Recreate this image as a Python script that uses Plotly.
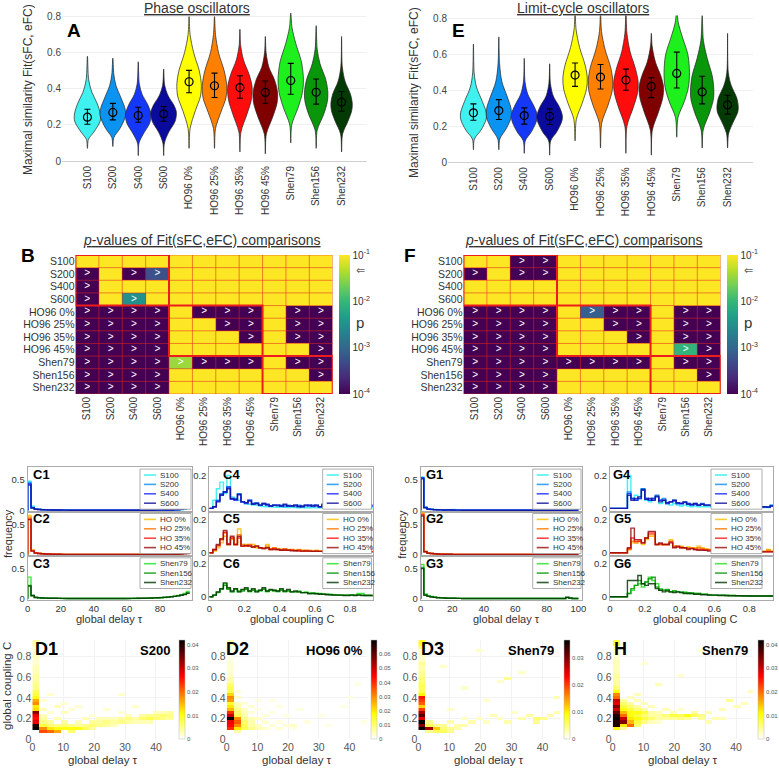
import plotly.graph_objects as go

W, H = 779, 772
def PX(x): return x / W
def PY(y): return 1 - y / H

FONT = "Liberation Sans, Arial, sans-serif"
TXT = "#333333"

# ---------------- data ----------------
cats = ["S100", "S200", "S400", "S600", "HO96 0%", "HO96 25%", "HO96 35%", "HO96 45%",
        "Shen79", "Shen156", "Shen232"]
vcolors = ["#3ff2f0", "#0b93f2", "#1438f5", "#0a0a9c", "#ffff00", "#ff8000", "#ff0d0d",
           "#800000", "#1ef01e", "#0a960a", "#043a04"]

# Panel A (phase oscillators): mean and error-bar ends
A_mean = [0.243, 0.269, 0.252, 0.261, 0.439, 0.417, 0.407, 0.380, 0.446, 0.381, 0.326]
A_top = [0.287, 0.319, 0.298, 0.302, 0.502, 0.487, 0.472, 0.443, 0.541, 0.454, 0.385]
A_bot = [0.204, 0.228, 0.215, 0.220, 0.378, 0.352, 0.348, 0.320, 0.370, 0.315, 0.276]
A_lo = [0.07, 0.08, 0.03, 0.03, 0.07, 0.07, 0.05, 0.04, 0.10, 0.07, 0.05]
A_hi = [0.58, 0.57, 0.55, 0.51, 0.80, 0.80, 0.73, 0.69, 0.82, 0.75, 0.69]
A_ky = [[.12, .16, .22, .26, .32, .38, .45], [.13, .18, .25, .29, .35, .42, .48],
        [.10, .15, .21, .26, .31, .37, .43], [.10, .16, .22, .27, .31, .36, .42],
        [.18, .28, .36, .43, .50, .60, .70], [.18, .27, .35, .42, .50, .60, .70],
        [.16, .26, .34, .41, .48, .56, .64], [.15, .24, .32, .38, .45, .52, .60],
        [.20, .30, .38, .45, .55, .65, .74], [.17, .26, .33, .38, .45, .54, .62],
        [.15, .22, .28, .32, .37, .44, .52]]
A_kw = [[.04, .25, .50, .51, .38, .18, .05], [.04, .28, .50, .48, .32, .12, .04],
        [.03, .20, .45, .50, .38, .15, .04], [.03, .20, .45, .50, .40, .18, .04],
        [.04, .25, .45, .48, .40, .18, .04], [.04, .25, .45, .48, .38, .16, .04],
        [.04, .28, .45, .48, .36, .14, .03], [.04, .28, .46, .48, .36, .14, .03],
        [.04, .30, .46, .50, .42, .20, .05], [.04, .30, .44, .46, .38, .15, .04],
        [.04, .25, .40, .42, .35, .14, .03]]

# Panel E (limit-cycle oscillators)
E_mean = [0.276, 0.289, 0.261, 0.257, 0.487, 0.476, 0.459, 0.424, 0.496, 0.393, 0.320]
E_top = [0.326, 0.350, 0.304, 0.298, 0.554, 0.546, 0.520, 0.472, 0.615, 0.480, 0.374]
E_bot = [0.235, 0.239, 0.213, 0.211, 0.424, 0.409, 0.402, 0.361, 0.415, 0.326, 0.269]
E_lo = [0.07, 0.07, 0.05, 0.04, 0.12, 0.08, 0.05, 0.04, 0.14, 0.08, 0.08]
E_hi = [0.66, 0.70, 0.58, 0.55, 0.84, 0.84, 0.84, 0.72, 0.86, 0.82, 0.72]
E_ky = [[.13, .18, .24, .28, .34, .42, .50], [.13, .19, .25, .30, .37, .45, .55],
        [.12, .17, .23, .27, .32, .38, .45], [.12, .17, .23, .26, .31, .37, .44],
        [.24, .33, .41, .47, .54, .64, .74], [.22, .32, .40, .46, .53, .63, .73],
        [.20, .31, .39, .45, .52, .62, .72], [.18, .28, .36, .42, .48, .56, .65],
        [.25, .34, .42, .50, .60, .70, .78], [.18, .28, .35, .40, .48, .58, .68],
        [.16, .23, .28, .31, .36, .43, .50]]
E_kw = [[.04, .30, .50, .50, .35, .12, .03], [.04, .30, .48, .48, .32, .12, .03],
        [.04, .28, .48, .50, .36, .14, .03], [.04, .28, .48, .50, .38, .14, .03],
        [.05, .28, .45, .48, .40, .18, .04], [.05, .30, .46, .48, .40, .18, .04],
        [.04, .30, .46, .48, .38, .16, .04], [.04, .28, .45, .48, .38, .16, .03],
        [.05, .30, .46, .50, .44, .22, .06], [.04, .30, .44, .46, .40, .20, .05],
        [.04, .24, .40, .42, .36, .14, .03]]

# Panels B / F: log10(p) of pairwise comparisons (row vs column)
B_log10p = [
    [-0.5, -0.5, -0.5, -0.5, -0.5, -0.5, -0.5, -0.5, -0.5, -0.5, -0.5],
    [-4.5, -0.5, -4.5, -3.25, -0.5, -0.5, -0.5, -0.5, -0.5, -0.5, -0.5],
    [-4.5, -0.5, -0.5, -0.5, -0.5, -0.5, -0.5, -0.5, -0.5, -0.5, -0.5],
    [-4.5, -0.5, -2.5, -0.5, -0.5, -0.5, -0.5, -0.5, -0.5, -0.5, -0.5],
    [-4.5, -4.5, -4.5, -4.5, -0.5, -4.5, -4.5, -4.5, -0.5, -4.5, -4.5],
    [-4.5, -4.5, -4.5, -4.5, -0.5, -0.5, -4.5, -4.5, -0.5, -4.5, -4.5],
    [-4.5, -4.5, -4.5, -4.5, -0.5, -0.5, -0.5, -4.5, -0.5, -4.5, -4.5],
    [-4.5, -4.5, -4.5, -4.5, -0.5, -0.5, -0.5, -0.5, -0.5, -0.5, -4.5],
    [-4.5, -4.5, -4.5, -4.5, -1.45, -4.5, -4.5, -4.5, -0.5, -4.5, -4.5],
    [-4.5, -4.5, -4.5, -4.5, -0.5, -0.5, -0.5, -0.5, -0.5, -0.5, -4.5],
    [-4.5, -4.5, -4.5, -4.5, -0.5, -0.5, -0.5, -0.5, -0.5, -0.5, -0.5]]
F_log10p = [
    [-0.5, -0.5, -4.5, -4.5, -0.5, -0.5, -0.5, -0.5, -0.5, -0.5, -0.5],
    [-4.5, -0.5, -4.5, -4.5, -0.5, -0.5, -0.5, -0.5, -0.5, -0.5, -0.5],
    [-0.5, -0.5, -0.5, -0.5, -0.5, -0.5, -0.5, -0.5, -0.5, -0.5, -0.5],
    [-0.5, -0.5, -0.5, -0.5, -0.5, -0.5, -0.5, -0.5, -0.5, -0.5, -0.5],
    [-4.5, -4.5, -4.5, -4.5, -0.5, -3.1, -4.5, -4.5, -0.5, -4.5, -4.5],
    [-4.5, -4.5, -4.5, -4.5, -0.5, -0.5, -4.5, -4.5, -0.5, -4.5, -4.5],
    [-4.5, -4.5, -4.5, -4.5, -0.5, -0.5, -0.5, -4.5, -0.5, -4.5, -4.5],
    [-4.5, -4.5, -4.5, -4.5, -0.5, -0.5, -0.5, -0.5, -0.5, -2.05, -4.5],
    [-4.5, -4.5, -4.5, -4.5, -4.5, -4.5, -4.5, -4.5, -0.5, -4.5, -4.5],
    [-4.5, -4.5, -4.5, -4.5, -0.5, -0.5, -0.5, -0.5, -0.5, -0.5, -4.5],
    [-4.5, -4.5, -4.5, -4.5, -0.5, -0.5, -0.5, -0.5, -0.5, -0.5, -0.5]]
alpha_log10 = -1.301  # p = 0.05

# Histograms of delay (bin width 2) and coupling (bin width 0.02)
delay_bin = 2.0
coup_bin = 0.02
S_names = ["S100", "S200", "S400", "S600"]
HO_names = ["HO 0%", "HO 25%", "HO 35%", "HO 45%"]
Shen_names = ["Shen79", "Shen156", "Shen232"]
S_hcol = ["#22eef0", "#0a90f0", "#1a2cff", "#12129c"]
HO_hcol = ["#f8c000", "#ff7a00", "#ff1a1a", "#9a0f0f"]
Shen_hcol = ["#22e022", "#0a980a", "#063806"]

C1_delay = [
    [.48, .07, .03, .02, .016, .013, .011, .01, .009, .008, .008, .007, .007, .006, .006, .006, .005, .005, .005, .005, .005, .004, .004, .004, .004, .004, .004, .004, .004, .004, .004, .004, .004, .004, .004, .005, .005, .005, .005, .005, .006, .006, .007, .008, .009, .011, .014, .02, .03],
    [.46, .05, .025, .018, .014, .012, .01, .009, .008, .007, .007, .006, .006, .006, .005, .005, .005, .005, .005, .004, .004, .004, .004, .004, .004, .004, .004, .004, .004, .004, .004, .004, .004, .004, .004, .005, .005, .005, .005, .006, .006, .006, .007, .008, .01, .012, .016, .025, .045],
    [.44, .045, .022, .016, .013, .011, .01, .009, .008, .007, .007, .006, .006, .005, .005, .005, .005, .004, .004, .004, .004, .004, .004, .004, .004, .004, .004, .004, .004, .004, .004, .004, .004, .004, .005, .005, .005, .005, .005, .006, .006, .007, .008, .009, .01, .013, .018, .03, .06],
    [.42, .04, .02, .015, .012, .01, .009, .008, .007, .007, .006, .006, .005, .005, .005, .005, .004, .004, .004, .004, .004, .004, .004, .004, .004, .004, .004, .004, .004, .004, .004, .004, .004, .005, .005, .005, .005, .005, .006, .006, .007, .007, .008, .009, .011, .014, .02, .035, .07]]
C2_delay = [
    [.65, .08, .035, .025, .02, .016, .013, .011, .01, .009, .008, .007, .007, .006, .006, .005, .005, .005, .005, .004, .004, .004, .004, .004, .004, .004, .004, .004, .004, .004, .004, .004, .004, .004, .004, .004, .005, .005, .005, .005, .005, .006, .006, .007, .008, .01, .015, .025, .03],
    [.62, .07, .03, .022, .018, .015, .012, .01, .009, .008, .008, .007, .006, .006, .006, .005, .005, .005, .004, .004, .004, .004, .004, .004, .004, .004, .004, .004, .004, .004, .004, .004, .004, .004, .004, .005, .005, .005, .005, .005, .006, .006, .007, .008, .009, .012, .016, .02, .028],
    [.59, .065, .03, .02, .016, .014, .012, .01, .009, .008, .007, .007, .006, .006, .005, .005, .005, .005, .004, .004, .004, .004, .004, .004, .004, .004, .004, .004, .004, .004, .004, .004, .004, .004, .005, .005, .005, .005, .005, .006, .006, .006, .007, .008, .01, .012, .018, .03, .035],
    [.58, .06, .028, .02, .016, .013, .011, .01, .009, .008, .007, .006, .006, .006, .005, .005, .005, .004, .004, .004, .004, .004, .004, .004, .004, .004, .004, .004, .004, .004, .004, .004, .004, .004, .004, .004, .005, .005, .005, .005, .005, .006, .006, .007, .008, .01, .012, .016, .02]]
C3_delay = [
    [.36, .05, .02, .015, .012, .01, .009, .008, .007, .007, .006, .006, .005, .005, .005, .005, .005, .004, .004, .004, .004, .004, .004, .004, .004, .004, .004, .004, .005, .005, .005, .005, .006, .006, .007, .008, .009, .01, .012, .015, .018, .022, .028, .035, .045, .055, .07, .09, .12],
    [.22, .06, .025, .018, .014, .012, .01, .009, .008, .008, .007, .007, .006, .006, .006, .005, .005, .005, .005, .005, .005, .005, .005, .005, .005, .005, .005, .006, .006, .006, .007, .007, .008, .008, .009, .01, .012, .014, .016, .018, .022, .026, .03, .036, .04, .05, .06, .075, .1],
    [.21, .05, .022, .016, .013, .011, .01, .009, .008, .007, .007, .006, .006, .006, .005, .005, .005, .005, .005, .005, .005, .005, .005, .005, .005, .005, .005, .005, .006, .006, .006, .007, .007, .008, .009, .01, .011, .013, .015, .018, .02, .024, .028, .033, .04, .048, .058, .07, .09]]
G1_delay = [
    [.55, .06, .03, .02, .015, .012, .01, .009, .008, .008, .015, .007, .006, .006, .006, .005, .005, .005, .005, .005, .005, .004, .004, .004, .004, .004, .004, .004, .004, .004, .004, .004, .004, .004, .004, .004, .004, .004, .004, .004, .004, .004, .005, .005, .005, .005, .005, .005, .005, .006],
    [.53, .05, .025, .018, .014, .012, .01, .009, .008, .007, .007, .006, .006, .006, .005, .005, .005, .005, .005, .004, .004, .004, .004, .004, .004, .004, .004, .004, .004, .004, .004, .004, .004, .004, .004, .004, .004, .004, .004, .004, .004, .004, .004, .004, .005, .005, .005, .005, .005, .006],
    [.54, .05, .025, .018, .014, .011, .01, .009, .008, .007, .007, .006, .006, .005, .005, .005, .005, .005, .004, .004, .004, .004, .004, .004, .004, .004, .004, .004, .004, .004, .004, .004, .004, .004, .004, .004, .004, .004, .004, .004, .004, .004, .004, .004, .004, .005, .005, .005, .005, .005],
    [.52, .045, .022, .016, .013, .011, .01, .009, .008, .007, .006, .006, .006, .005, .005, .005, .005, .004, .004, .004, .004, .004, .004, .004, .004, .004, .004, .004, .004, .004, .004, .004, .004, .004, .004, .004, .004, .004, .004, .004, .004, .004, .004, .004, .004, .005, .005, .005, .006, .008]]
G2_delay = [
    [.70, .06, .03, .022, .018, .015, .012, .01, .009, .008, .007, .007, .006, .006, .005, .005, .005, .005, .004, .004, .004, .004, .004, .004, .004, .004, .004, .004, .004, .004, .004, .004, .004, .004, .004, .004, .004, .004, .004, .004, .004, .004, .004, .004, .004, .004, .004, .004, .004, .004],
    [.68, .055, .03, .022, .018, .014, .012, .01, .009, .008, .007, .007, .006, .006, .005, .005, .005, .005, .004, .004, .004, .004, .004, .004, .004, .004, .004, .004, .004, .004, .004, .004, .004, .004, .004, .004, .004, .004, .004, .004, .004, .004, .004, .004, .004, .004, .004, .004, .004, .004],
    [.66, .05, .028, .02, .016, .013, .011, .01, .009, .008, .007, .006, .006, .005, .005, .005, .005, .004, .004, .004, .004, .004, .004, .004, .004, .004, .004, .004, .004, .004, .004, .004, .004, .004, .004, .004, .004, .004, .004, .004, .004, .004, .004, .004, .004, .004, .004, .004, .004, .004],
    [.64, .05, .025, .02, .016, .013, .011, .01, .009, .008, .007, .006, .006, .005, .005, .005, .005, .004, .004, .004, .004, .004, .004, .004, .004, .004, .004, .004, .004, .004, .004, .004, .004, .004, .004, .004, .004, .004, .004, .004, .004, .004, .004, .004, .004, .004, .004, .004, .004, .004]]
G3_delay = [
    [.57, .08, .05, .04, .03, .022, .018, .015, .012, .01, .009, .008, .007, .006, .006, .005, .005, .005, .005, .005, .004, .004, .004, .004, .004, .004, .004, .004, .004, .004, .004, .004, .004, .004, .004, .004, .004, .004, .004, .004, .004, .004, .004, .004, .005, .006, .02, .008, .005, .004],
    [.52, .07, .045, .035, .026, .02, .016, .013, .011, .01, .009, .008, .007, .006, .006, .005, .005, .005, .005, .004, .004, .004, .004, .004, .004, .004, .004, .004, .004, .004, .004, .004, .004, .004, .004, .004, .004, .004, .004, .004, .004, .004, .004, .004, .005, .006, .022, .01, .005, .004],
    [.50, .06, .04, .03, .024, .018, .015, .012, .01, .009, .008, .007, .007, .006, .005, .005, .005, .005, .004, .004, .004, .004, .004, .004, .004, .004, .004, .004, .004, .004, .004, .004, .004, .004, .004, .004, .004, .004, .004, .004, .004, .004, .004, .004, .005, .006, .025, .012, .005, .004]]

C4_coup = [
    [0, .05, .12, .16, .09, .2, .07, .06, .05, .04, .03, .025, .02, .02, .015, .012, .01, .01, .008, .007, .008, .006, .005, .006, .005, .004, .005, .004, .004, .005, .003, .004, .003, .004, .003, .003, .004, .003, .003, .003, .002, .003, .002, .003, .002, .002, .002],
    [0, .01, .05, .09, .1, .13, .06, .06, .09, .04, .035, .05, .03, .035, .02, .025, .02, .015, .02, .015, .02, .012, .02, .015, .012, .02, .01, .015, .02, .012, .02, .01, .015, .02, .012, .015, .01, .02, .012, .015, .01, .012, .01, .015, .01, .01, .012],
    [0, .01, .045, .085, .1, .13, .055, .05, .085, .04, .03, .05, .03, .03, .02, .03, .02, .015, .02, .02, .015, .02, .015, .015, .02, .015, .01, .02, .015, .02, .015, .01, .02, .015, .01, .02, .015, .01, .02, .012, .015, .01, .02, .01, .015, .01, .015],
    [0, .01, .04, .08, .1, .12, .06, .055, .085, .04, .035, .045, .025, .03, .02, .03, .025, .015, .02, .02, .015, .025, .015, .015, .02, .01, .015, .02, .02, .015, .02, .01, .025, .015, .01, .02, .015, .01, .02, .015, .02, .01, .02, .015, .01, .015, .02]]
C5_coup = [
    [0, .01, .03, .06, .1, .05, .08, .05, .145, .04, .05, .04, .05, .03, .03, .03, .05, .02, .03, .025, .02, .02, .02, .015, .015, .02, .015, .01, .015, .01, .015, .01, .01, .015, .01, .01, .01, .01, .008, .01, .008, .01, .008, .008, .008, .008, .008],
    [0, .015, .04, .08, .12, .05, .09, .05, .11, .05, .04, .05, .035, .04, .03, .03, .04, .025, .03, .02, .02, .025, .015, .02, .015, .015, .01, .015, .01, .01, .012, .01, .01, .01, .008, .01, .008, .01, .008, .008, .008, .006, .008, .006, .008, .015, .008],
    [0, .02, .045, .08, .125, .055, .09, .05, .09, .04, .04, .045, .035, .04, .03, .025, .03, .02, .025, .02, .015, .02, .015, .015, .012, .015, .01, .012, .01, .01, .01, .008, .01, .008, .008, .008, .006, .008, .006, .006, .006, .006, .006, .006, .006, .006, .006],
    [0, .02, .05, .085, .135, .05, .1, .05, .1, .04, .045, .04, .035, .04, .03, .025, .03, .02, .02, .02, .015, .015, .015, .012, .012, .01, .01, .01, .01, .008, .008, .008, .008, .008, .006, .006, .006, .006, .006, .005, .005, .005, .005, .005, .005, .005, .005]]
C6_coup = [
    [0, .01, .03, .05, .08, .05, .03, .05, .03, .04, .05, .03, .045, .03, .035, .05, .03, .04, .04, .03, .045, .035, .04, .03, .03, .035, .025, .03, .02, .025, .02, .02, .015, .015, .015, .012, .012, .01, .01, .01, .012, .01, .02, .02, .01, .01, .008],
    [0, .01, .025, .045, .07, .045, .03, .045, .035, .035, .045, .035, .04, .035, .04, .045, .035, .04, .035, .035, .04, .03, .035, .03, .03, .03, .025, .025, .02, .02, .02, .018, .015, .015, .012, .012, .01, .01, .01, .01, .01, .01, .012, .01, .008, .008, .008],
    [0, .01, .03, .05, .085, .055, .035, .05, .03, .045, .055, .035, .05, .03, .04, .055, .035, .045, .04, .035, .05, .035, .045, .03, .035, .03, .025, .025, .02, .02, .018, .015, .015, .012, .012, .01, .01, .01, .008, .008, .01, .008, .01, .008, .008, .008, .008]]
G4_coup = [
    [0, 0, 0, 0, 0, .2, .06, .08, .07, .12, .05, .04, .05, .07, .03, .04, .03, .02, .03, .02, .015, .02, .015, .01, .015, .01, .012, .01, .01, .01, .008, .01, .008, .008, .006, .008, .006, .006, .006, .006, .005, .005, .005, .005, .005, .005, .02],
    [0, 0, 0, 0, 0, .1, .06, .05, .06, .12, .06, .05, .06, .08, .05, .06, .03, .04, .05, .03, .03, .04, .03, .02, .03, .02, .03, .02, .02, .02, .015, .02, .015, .01, .015, .01, .015, .01, .01, .01, .012, .01, .008, .01, .008, .01, .02],
    [0, 0, 0, 0, 0, .09, .06, .05, .06, .11, .06, .05, .06, .07, .05, .05, .03, .04, .045, .03, .03, .035, .03, .02, .025, .02, .025, .02, .02, .015, .015, .02, .015, .01, .015, .01, .01, .01, .01, .01, .01, .01, .008, .01, .008, .008, .015],
    [0, 0, 0, 0, 0, .08, .05, .06, .07, .115, .055, .06, .05, .075, .04, .05, .035, .04, .05, .035, .03, .04, .025, .025, .03, .02, .025, .02, .02, .02, .015, .015, .015, .01, .015, .01, .012, .01, .01, .01, .01, .01, .008, .01, .01, .008, .015]]
G5_coup = [
    [0, 0, 0, 0, 0, .02, .06, .06, .07, .05, .08, .1, .1, .05, .05, .05, .05, .08, .04, .04, .04, .03, .035, .03, .03, .04, .03, .025, .02, .02, .02, .02, .015, .015, .015, .01, .01, .015, .01, .01, .01, .01, .01, .01, .01, .02, .01],
    [0, 0, 0, 0, 0, .02, .07, .06, .07, .06, .09, .11, .11, .05, .05, .05, .05, .07, .04, .035, .035, .03, .03, .03, .025, .03, .025, .02, .02, .02, .015, .015, .015, .012, .012, .01, .01, .01, .01, .01, .01, .01, .008, .008, .008, .015, .008],
    [0, 0, 0, 0, 0, .025, .09, .07, .07, .06, .09, .12, .12, .05, .055, .05, .05, .065, .035, .035, .03, .03, .025, .025, .02, .02, .02, .015, .015, .015, .012, .01, .01, .01, .01, .008, .008, .008, .008, .008, .008, .008, .006, .006, .006, .006, .006],
    [0, 0, 0, 0, 0, .03, .15, .08, .08, .06, .09, .13, .13, .05, .06, .05, .05, .06, .03, .04, .03, .03, .02, .025, .02, .015, .015, .015, .01, .01, .01, .008, .008, .008, .006, .006, .006, .006, .005, .005, .005, .005, .005, .005, .005, .005, .005]]
G6_coup = [
    [0, 0, 0, 0, 0, .02, .04, .07, .08, .06, .09, .12, .1, .08, .05, .04, .04, .03, .035, .03, .025, .03, .02, .025, .02, .02, .015, .015, .012, .01, .01, .01, .01, .008, .008, .008, .006, .006, .006, .006, .005, .005, .005, .005, .005, .005, .006],
    [0, 0, 0, 0, 0, .02, .05, .07, .1, .08, .09, .11, .12, .06, .04, .04, .045, .03, .035, .03, .03, .025, .025, .02, .02, .02, .015, .015, .012, .01, .01, .01, .01, .008, .008, .008, .006, .006, .006, .006, .005, .005, .005, .005, .005, .005, .005],
    [0, 0, 0, 0, 0, .1, .1, .1, .13, .08, .07, .08, .08, .05, .04, .03, .035, .03, .025, .03, .025, .02, .02, .02, .015, .015, .012, .012, .01, .01, .01, .008, .008, .008, .006, .006, .006, .006, .005, .005, .005, .005, .005, .005, .005, .005, .005]]

# 2D histograms (delay bin 2.3, coupling bin 0.03); column 0 dense, others sparse (i_tau, j_C, value)
tau2_bin = 2.3
c2_bin = 0.03
n_tau2, n_c2 = 20, 32
D1_col0 = [0, 0, 0, .042, .040, .028, .026, .028, .034, .013, .012, .018, .016, .010, .008, .007, .005, .005, .004, .004, .004, .003, .003, .003, .002, .002, .003, .002, .002, .002, .004, .004]
D1_cells = [(1, 2, .022), (1, 3, .018), (1, 4, .008), (1, 5, .005), (1, 6, .004), (1, 7, .003), (1, 9, .003), (1, 12, .002),
            (2, 2, .02), (2, 3, .012), (2, 4, .006), (2, 5, .004), (2, 8, .002), (2, 14, .002),
            (3, 2, .016), (3, 3, .01), (3, 4, .005), (3, 6, .003), (3, 10, .003),
            (4, 3, .01), (4, 4, .006), (4, 5, .004), (4, 8, .003), (4, 11, .002),
            (5, 3, .01), (5, 4, .005), (5, 2, .006), (5, 9, .002),
            (6, 3, .01), (6, 4, .004), (6, 5, .003), (6, 10, .002),
            (7, 3, .007), (7, 4, .005), (7, 6, .003),
            (8, 4, .006), (8, 5, .004), (8, 3, .004), (8, 7, .002),
            (9, 4, .005), (9, 5, .004), (9, 6, .003),
            (10, 4, .004), (10, 5, .005), (10, 6, .003), (10, 9, .002),
            (11, 5, .004), (11, 6, .003), (11, 4, .003),
            (12, 5, .005), (12, 6, .004), (12, 8, .002), (12, 14, .002),
            (13, 5, .004), (13, 6, .005), (13, 7, .003),
            (14, 6, .004), (14, 5, .003), (14, 10, .002),
            (15, 6, .006), (15, 7, .004), (15, 5, .003),
            (16, 6, .007), (16, 7, .005), (16, 5, .003),
            (17, 6, .006), (17, 7, .005), (17, 8, .003),
            (18, 7, .006), (18, 6, .005), (18, 8, .003),
            (19, 7, .005), (19, 6, .004), (19, 8, .004)]
D2_col0 = [0, 0, 0, .04, .044, .046, .07, .05, .04, .025, .02, .015, .028, .03, .022, .012, .012, .01, .006, .006, .004, .003, .003, .003, .003, .002, .002, .002, .002, .002, .006, .006]
D2_cells = [(1, 3, .02), (1, 4, .03), (1, 5, .035), (1, 6, .03), (1, 7, .012), (1, 8, .01), (1, 9, .008), (1, 10, .006), (1, 11, .005), (1, 13, .004), (1, 15, .003), (1, 2, .006),
            (2, 3, .012), (2, 4, .012), (2, 5, .01), (2, 6, .008), (2, 7, .006), (2, 8, .005), (2, 9, .004), (2, 11, .003),
            (3, 3, .008), (3, 4, .006), (3, 5, .006), (3, 6, .005), (3, 8, .003), (3, 10, .003),
            (4, 3, .005), (4, 4, .004), (4, 6, .004), (4, 9, .002), (4, 12, .002),
            (5, 3, .004), (5, 5, .003), (5, 7, .003), (6, 4, .003), (6, 8, .002), (6, 12, .002),
            (7, 3, .003), (7, 5, .002), (7, 10, .002), (8, 4, .003), (8, 7, .002), (9, 4, .004), (9, 3, .002),
            (10, 9, .002), (11, 5, .002), (13, 7, .002), (14, 4, .002), (17, 13, .002), (18, 17, .002),
            (13, 28, .002), (19, 5, .002), (16, 10, .002)]
D3_col0 = [0, 0, 0, .036, .03, .036, .025, .032, .028, .02, .012, .018, .02, .022, .01, .006, .006, .006, .005, .005, .004, .004, .003, .003, .004, .002, .002, .002, .002, .005, .008, .008]
D3_cells = [(1, 3, .028), (1, 4, .006), (1, 2, .004), (1, 5, .004), (2, 3, .012), (2, 2, .006), (2, 4, .004),
            (3, 2, .006), (3, 3, .005), (3, 4, .004), (4, 2, .004), (4, 3, .004), (4, 5, .003), (5, 3, .003),
            (5, 4, .003), (6, 4, .003), (6, 6, .002), (7, 5, .003), (8, 6, .002), (9, 5, .002), (10, 7, .003),
            (11, 6, .002), (12, 19, .004), (12, 5, .003), (13, 8, .002), (14, 6, .003), (15, 7, .003),
            (16, 6, .005), (16, 5, .004), (17, 6, .004), (18, 7, .003), (19, 13, .003), (19, 8, .003),
            (9, 12, .002), (6, 16, .002), (14, 21, .002), (3, 23, .002), (8, 28, .002), (11, 18, .002), (4, 9, .002)]
H_col0 = [0, 0, 0, .01, .04, .04, .042, .04, .036, .03, .034, .028, .03, .02, .018, .01, .006, .004, .004, .004, .004, .003, .003, .003, .003, .003, .002, .002, .002, .002, .008, .008]
H_cells = [(1, 4, .012), (1, 5, .034), (1, 6, .03), (1, 7, .02), (1, 8, .015), (1, 9, .01), (1, 10, .008), (1, 11, .006), (1, 12, .004), (1, 3, .004),
           (2, 4, .02), (2, 5, .015), (2, 6, .012), (2, 7, .01), (2, 8, .01), (2, 9, .008), (2, 10, .006), (2, 11, .004), (2, 13, .003),
           (3, 4, .006), (3, 5, .008), (3, 6, .01), (3, 7, .008), (3, 8, .01), (3, 9, .006), (3, 10, .004), (3, 12, .003),
           (4, 5, .005), (4, 6, .008), (4, 7, .006), (4, 8, .008), (4, 9, .004), (4, 11, .003),
           (5, 5, .003), (5, 6, .006), (5, 7, .004), (5, 8, .004), (5, 10, .003),
           (6, 6, .004), (6, 7, .004), (6, 8, .003), (6, 5, .002), (7, 7, .006), (7, 6, .004), (7, 9, .003),
           (8, 7, .008), (8, 6, .004), (8, 8, .003), (9, 7, .007), (9, 6, .005), (9, 9, .002),
           (10, 7, .01), (10, 6, .004), (11, 7, .007), (11, 8, .004), (12, 7, .005), (12, 6, .004),
           (13, 8, .003), (13, 5, .003), (14, 6, .003), (15, 9, .003), (16, 12, .004), (17, 10, .003),
           (18, 11, .003), (19, 15, .003), (6, 17, .003), (9, 20, .002), (4, 24, .002), (12, 28, .002),
           (3, 14, .003), (15, 6, .003)]
D_zmax = [0.042, 0.07, 0.0365, 0.042]
D_ticks = [[0, .01, .02, .03, .04], [0, .01, .02, .03, .04, .05, .06], [0, .01, .02, .03], [0, .01, .02, .03, .04]]

# ---------------- figure ----------------
fig = go.Figure()
shapes, annots = [], []
layout = dict(width=W, height=H, margin=dict(l=0, r=0, t=0, b=0, pad=0, autoexpand=False),
              paper_bgcolor="white", plot_bgcolor="white", showlegend=False,
              font=dict(family=FONT, size=10, color=TXT))

def axis_name(kind, n):
    return kind + ("" if n == 1 else str(n))

def set_axes(n, xpx, ypx, xr, yr, xkw=None, ykw=None):
    xa = dict(domain=[PX(xpx[0]), PX(xpx[1])], range=xr, anchor=axis_name("y", n), automargin=False,
              showgrid=False, zeroline=False, ticks="", tickfont=dict(size=10, color=TXT))
    ya = dict(domain=[PY(ypx[1]), PY(ypx[0])], range=yr, anchor=axis_name("x", n), automargin=False,
              showgrid=False, zeroline=False, ticks="", tickfont=dict(size=10, color=TXT))
    if xkw: xa.update(xkw)
    if ykw: ya.update(ykw)
    layout[axis_name("xaxis", n)] = xa
    layout[axis_name("yaxis", n)] = ya

def ref(n):
    return axis_name("x", n), axis_name("y", n)

def note(xp, yp, text, size, color=TXT, **kw):
    d = dict(x=PX(xp), y=PY(yp), xref="paper", yref="paper", text=text, showarrow=False,
             xanchor="center", yanchor="middle", font=dict(size=size, color=color, family=FONT))
    fnt = kw.pop("font_extra", None)
    if fnt:
        d["font"].update(fnt)
    d.update(kw)
    annots.append(d)

# ---- Violin panels (A, E) ----
def violin_panel(n, mean, top, bot, lo, hi, ky, kw):
    xa, ya = ref(n)
    for k in range(len(cats)):
        xs = [k] + [k + w for w in kw[k]] + [k] + [k - w for w in reversed(kw[k])] + [k]
        ys = [lo[k]] + ky[k] + [hi[k]] + list(reversed(ky[k])) + [lo[k]]
        fig.add_trace(go.Scatter(x=xs, y=ys, mode="lines", fill="toself", fillcolor=vcolors[k],
                                 line=dict(color="#222222", width=0.7, shape="spline", smoothing=0.9),
                                 xaxis=xa, yaxis=ya, hoverinfo="skip"))
    fig.add_trace(go.Scatter(x=list(range(len(cats))), y=mean, mode="markers",
                             marker=dict(symbol="circle-open", size=8, color="black", line=dict(width=1.2)),
                             error_y=dict(type="data", symmetric=False,
                                          array=[t - m for t, m in zip(top, mean)],
                                          arrayminus=[m - b for m, b in zip(mean, bot)],
                                          color="black", thickness=1.1, width=3),
                             xaxis=xa, yaxis=ya, hoverinfo="skip"))

vx = dict(tickvals=list(range(11)), ticktext=cats, tickangle=-90, showline=True, linecolor="#d0d0d0",
          tickfont=dict(size=10, color=TXT))
vy = dict(tickvals=[0, .2, .4, .6, .8], ticktext=["0", "0.2", "0.4", "0.6", "0.8"], showgrid=True,
          gridcolor="#f0f0f0", tickfont=dict(size=10, color="#444"))
set_axes(1, (62, 367), (13, 161), [-1, 11], [0, 0.82], vx, vy)
set_axes(2, (448, 753), (15.4, 162.3), [-1, 11], [0, 0.82], vx, vy)
violin_panel(1, A_mean, A_top, A_bot, A_lo, A_hi, A_ky, A_kw)
violin_panel(2, E_mean, E_top, E_bot, E_lo, E_hi, E_ky, E_kw)
note(28, 90, "Maximal similarity Fit(sFC, eFC)", 12, textangle=-90)
note(414, 92, "Maximal similarity Fit(sFC, eFC)", 12, textangle=-90)

# ---- p-value heatmaps (B, F) ----
hx = dict(tickvals=list(range(11)), ticktext=cats, tickangle=-90, tickfont=dict(size=10, color=TXT))
hy = dict(tickvals=list(range(11)), ticktext=cats, tickfont=dict(size=10.5, color=TXT))
blocks = [(-0.5, 3.5), (3.5, 7.5), (7.5, 10.5)]

def pheat(n, z, xpx, cbx):
    xa, ya = ref(n)
    set_axes(n, xpx, (255, 394), [-0.5, 10.5], [10.5, -0.5], hx, hy)
    fig.add_trace(go.Heatmap(z=z, x=list(range(11)), y=list(range(11)), zmin=-4, zmax=-1,
                             colorscale="Viridis", xaxis=xa, yaxis=ya, hoverinfo="skip",
                             colorbar=dict(x=PX(cbx), xanchor="left", y=PY(324.5), yanchor="middle",
                                           len=139, lenmode="pixels", thickness=11, thicknessmode="pixels",
                                           xpad=0, ypad=0, outlinewidth=0, ticks="",
                                           tickvals=[-4, -3, -2, -1],
                                           ticktext=["10<sup>-4</sup>", "10<sup>-3</sup>", "10<sup>-2</sup>", "10<sup>-1</sup>"],
                                           tickfont=dict(size=10, color=TXT))))
    gx, gy = [], []
    for r in range(11):
        for c in range(11):
            if z[r][c] < alpha_log10:
                gx.append(c); gy.append(r)
    fig.add_trace(go.Scatter(x=gx, y=gy, mode="text", text=[">"] * len(gx),
                             textfont=dict(color="white", size=10, family=FONT),
                             xaxis=xa, yaxis=ya, hoverinfo="skip"))
    for k in range(12):
        e = k - 0.5
        shapes.append(dict(type="line", xref=xa, yref=ya, x0=e, x1=e, y0=-0.5, y1=10.5,
                           line=dict(color="rgba(225,40,30,0.55)", width=1)))
        shapes.append(dict(type="line", xref=xa, yref=ya, x0=-0.5, x1=10.5, y0=e, y1=e,
                           line=dict(color="rgba(225,40,30,0.55)", width=1)))
    for a, b in blocks:
        shapes.append(dict(type="rect", xref=xa, yref=ya, x0=a, x1=b, y0=a, y1=b,
                           line=dict(color="#ee1c1c", width=2)))
    note(cbx + 21, 323, "p", 15)
    note(cbx + 21, 270, "⇐", 11, "#666")

pheat(3, B_log10p, (75.5, 332.7), 339.3)
pheat(4, F_log10p, (463.5, 720.7), 727.3)

# ---- 1D histograms (C, G) ----
rows_px = [(467.3, 511.7), (511.7, 556), (556, 600)]
box = dict(showline=True, mirror=True, linecolor="#aaaaaa", linewidth=1)
ydl = dict(tickvals=[0, 0.5], ticktext=["0", "0.5"], **box)
ycp = dict(tickvals=[0, 0.2], ticktext=["0", "0.2"], **box)

def step_trace(bw, vals, color, n):
    xa, ya = ref(n)
    edges = [bw * i for i in range(len(vals) + 1)]
    return go.Scatter(x=[0] + edges, y=[0] + list(vals) + [vals[-1]], mode="lines",
                      line=dict(color=color, width=1.4, shape="hv"), opacity=0.85,
                      xaxis=xa, yaxis=ya, hoverinfo="skip")

LEG_STEP = 9.4
def legend_box(x0, x1, y0, names, cols):
    h = LEG_STEP * len(names) + 2.5
    shapes.append(dict(type="rect", xref="paper", yref="paper", x0=PX(x0), x1=PX(x1), y0=PY(y0 + h), y1=PY(y0),
                       line=dict(color="#999999", width=0.8), fillcolor="white"))
    for k, (nm, cl) in enumerate(zip(names, cols)):
        yk = y0 + 5.9 + LEG_STEP * k
        shapes.append(dict(type="line", xref="paper", yref="paper", x0=PX(x0 + 4), x1=PX(x0 + 16),
                           y0=PY(yk), y1=PY(yk), line=dict(color=cl, width=1.6), opacity=0.8))
        note(x0 + 19, yk, nm, 8, xanchor="left", borderpad=0)

groups = [(S_names, S_hcol), (HO_names, HO_hcol), (Shen_names, Shen_hcol)]
panels = [
    (5, (27.7, 191.7), [0, 99.2], delay_bin, C1_delay, 0, ydl, "C1", 41, (140, 191)),
    (6, (27.7, 191.7), [0, 99.2], delay_bin, C2_delay, 1, ydl, "C2", 41, (140, 191)),
    (7, (27.7, 191.7), [0, 99.2], delay_bin, C3_delay, 2, ydl, "C3", 41, (140, 191)),
    (8, (209.3, 372.7), [0, 0.929], coup_bin, C4_coup, 0, ycp, "C4", 231, (322.7, 371.5)),
    (9, (209.3, 372.7), [0, 0.929], coup_bin, C5_coup, 1, ycp, "C5", 231, (322.7, 371.5)),
    (10, (209.3, 372.7), [0, 0.929], coup_bin, C6_coup, 2, ycp, "C6", 231, (322.7, 371.5)),
    (11, (420.7, 582), [0, 102.3], delay_bin, G1_delay, 0, ydl, "G1", 434, (532.7, 581)),
    (12, (420.7, 582), [0, 102.3], delay_bin, G2_delay, 1, ydl, "G2", 434, (532.7, 581)),
    (13, (420.7, 582), [0, 102.3], delay_bin, G3_delay, 2, ydl, "G3", 434, (532.7, 581)),
    (14, (610, 773.3), [0, 0.938], coup_bin, G4_coup, 0, ycp, "G4", 622, (711, 762)),
    (15, (610, 773.3), [0, 0.938], coup_bin, G5_coup, 1, ycp, "G5", 622, (711, 762)),
    (16, (610, 773.3), [0, 0.938], coup_bin, G6_coup, 2, ycp, "G6", 622, (711, 762)),
]
for idx, (n, xpx, xr, bw, data, g, ykw, lab, labx, lgx) in enumerate(panels):
    r = idx % 3
    bottom = (r == 2)
    if bw == delay_bin:
        xt = [0, 20, 40, 60, 80] if xr[1] < 100 else [0, 20, 40, 60, 80, 100]
        xtt = [str(v) for v in xt]
    else:
        xt = [0, .2, .4, .6, .8]
        xtt = ["0", "0.2", "0.4", "0.6", "0.8"]
    xkw = dict(tickvals=xt, ticktext=xtt, showticklabels=bottom, tickfont=dict(size=9.5, color=TXT), **box)
    yr = [-0.02, 0.71] if ykw is ydl else [-0.02, 0.25]
    ykw2 = dict(ykw)
    ykw2["tickfont"] = dict(size=9.5, color=TXT)
    set_axes(n, xpx, rows_px[r], xr, yr, xkw, ykw2)
    names, cols = groups[g]
    for vals, cl in zip(data, cols):
        fig.add_trace(step_trace(bw, vals, cl, n))
    note(labx, rows_px[r][0] + 7, "<b>%s</b>" % lab, 13, "black")
    legend_box(lgx[0], lgx[1], rows_px[r][0] + 1.8, names, cols)

for xc, txt in [(110, "global delay τ"), (292, "global coupling C"), (506.7, "global delay τ"), (695, "global coupling C")]:
    note(xc, 619, txt, 11)
for xc in [8, 401.7]:
    note(xc, 534, "frequency", 11, textangle=-90)

# ---- 2D histograms (D1, D2, D3, H) ----
hot_r = [[0, "#ffffff"], [0.254, "#ffff00"], [0.635, "#ff0000"], [1, "#000000"]]
dpanels = [
    (17, (32.3, 173.3), D1_col0, D1_cells, 179.3, "D1", 46, "S200", 172),
    (18, (226.7, 366.7), D2_col0, D2_cells, 371.3, "D2", 238, "HO96 0%", 365),
    (19, (418.3, 560), D3_col0, D3_cells, 564.3, "D3", 432, "Shen79", 556),
    (20, (612.7, 753.3), H_col0, H_cells, 758.3, "H", 620.5, "Shen79", 750),
]
dx = dict(tickvals=[0, 10, 20, 30, 40], ticktext=["0", "10", "20", "30", "40"], showgrid=True, gridcolor="#f2f2f2",
          tickfont=dict(size=10.5, color="#555"))
dy = dict(tickvals=[0, .2, .4, .6, .8], ticktext=["0", "0.2", "0.4", "0.6", "0.8"], showgrid=True,
          gridcolor="#f2f2f2", tickfont=dict(size=10.5, color="#555"))
for k, (n, xpx, col0, cells, cbx, lab, labx, name, namex) in enumerate(dpanels):
    xa, ya = ref(n)
    set_axes(n, xpx, (640, 739.3), [0, 45.6], [0, 0.96], dict(dx), dict(dy))
    z = [[None] * n_tau2 for _ in range(n_c2)]
    for j, v in enumerate(col0):
        if v > 0:
            z[j][0] = v
    for (i, j, v) in cells:
        z[j][i] = v
    fig.add_trace(go.Heatmap(z=z, x=[(i + 0.5) * tau2_bin for i in range(n_tau2)],
                             y=[(j + 0.5) * c2_bin for j in range(n_c2)], zmin=0, zmax=D_zmax[k],
                             colorscale=hot_r, xaxis=xa, yaxis=ya, hoverinfo="skip", hoverongaps=False,
                             colorbar=dict(x=PX(cbx), xanchor="left", y=PY(689.6), yanchor="middle",
                                           len=99, lenmode="pixels", thickness=6, thicknessmode="pixels",
                                           xpad=0, ypad=0, outlinewidth=0.5, outlinecolor="#bbbbbb", ticks="",
                                           tickvals=D_ticks[k], ticktext=[("%g" % t) for t in D_ticks[k]],
                                           tickfont=dict(size=6, color="#555"))))
    note(labx, 649, "<b>%s</b>" % lab, 18, "black")
    note(namex, 650, "<b>%s</b>" % name, 13, "black", xanchor="right")
    note((xpx[0] + xpx[1]) / 2, 760, "global delay τ", 11.5)
note(7, 686, "global coupling C", 11.5, textangle=-90)

# ---- titles and panel letters ----
for xc, txt in [(197, "Phase oscillators"), (583, "Limit-cycle oscillators")]:
    note(xc, 8, txt, 14, font_extra=dict(lineposition="under"))
for xc in [201.7, 584]:
    note(xc, 239.5, "<i>p</i>-values of Fit(sFC,eFC) comparisons", 14, font_extra=dict(lineposition="under"))
for xc, yc, t in [(74, 30, "A"), (458, 30, "E"), (28, 255, "B"), (410, 255, "F")]:
    note(xc, yc, "<b>%s</b>" % t, 19, "black")

layout["shapes"] = shapes
layout["annotations"] = annots
fig.update_layout(**layout)
fig.write_html("out.html", config={"displayModeBar": False},
               post_script="document.body.style.margin='0px';document.body.style.padding='0px';")
